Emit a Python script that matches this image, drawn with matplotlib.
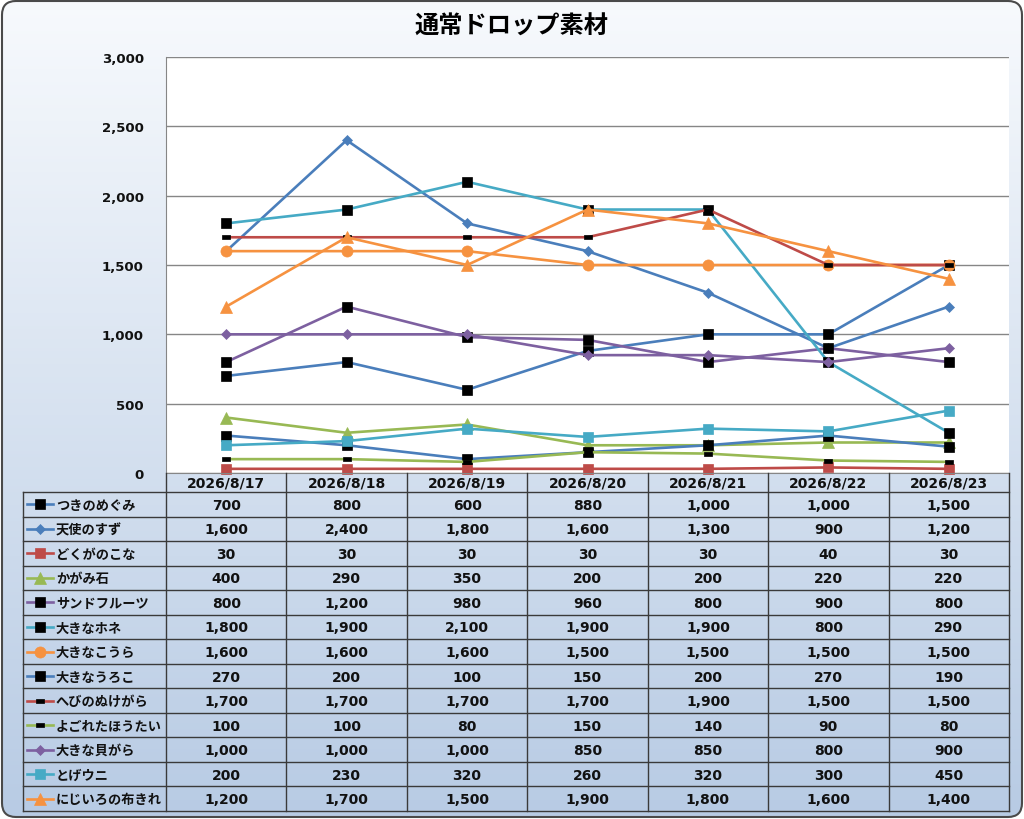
import numpy as np
import matplotlib
matplotlib.use("Agg")
import matplotlib.pyplot as plt
from matplotlib.patches import FancyBboxPatch
from matplotlib.path import Path
from matplotlib.lines import Line2D
from matplotlib.ticker import FuncFormatter, MultipleLocator

plt.rcParams['font.family'] = ['Noto Sans CJK JP', 'DejaVu Sans']
NUMFONT = ['DejaVu Sans', 'Noto Sans CJK JP']

title = "通常ドロップ素材"
dates = ["2026/8/17", "2026/8/18", "2026/8/19", "2026/8/20", "2026/8/21", "2026/8/22", "2026/8/23"]

names = ["つきのめぐみ", "天使のすず", "どくがのこな", "かがみ石", "サンドフルーツ", "大きなホネ",
         "大きなこうら", "大きなうろこ", "へびのぬけがら", "よごれたほうたい", "大きな貝がら",
         "とげウニ", "にじいろの布きれ"]

tsukinomegumi = [700, 800, 600, 880, 1000, 1000, 1500]
tenshinosuzu = [1600, 2400, 1800, 1600, 1300, 900, 1200]
dokuganokona = [30, 30, 30, 30, 30, 40, 30]
kagamiishi = [400, 290, 350, 200, 200, 220, 220]
sandfruits = [800, 1200, 980, 960, 800, 900, 800]
ookinahone = [1800, 1900, 2100, 1900, 1900, 800, 290]
ookinakoura = [1600, 1600, 1600, 1500, 1500, 1500, 1500]
ookinauroko = [270, 200, 100, 150, 200, 270, 190]
hebinonukegara = [1700, 1700, 1700, 1700, 1900, 1500, 1500]
yogoretahoutai = [100, 100, 80, 150, 140, 90, 80]
ookinakaigara = [1000, 1000, 1000, 850, 850, 800, 900]
togeuni = [200, 230, 320, 260, 320, 300, 450]
nijiironunokire = [1200, 1700, 1500, 1900, 1800, 1600, 1400]

series = [tsukinomegumi, tenshinosuzu, dokuganokona, kagamiishi, sandfruits, ookinahone,
          ookinakoura, ookinauroko, hebinonukegara, yogoretahoutai, ookinakaigara,
          togeuni, nijiironunokire]

BLUE, RED, GREEN, PURPLE, CYAN, ORANGE = "#4A7EBB", "#BE4B48", "#98B954", "#7D60A0", "#46AAC5", "#F69240"
dash = Path([(-1, -0.45), (1, -0.45), (1, 0.45), (-1, 0.45), (-1, -0.45)],
            [Path.MOVETO, Path.LINETO, Path.LINETO, Path.LINETO, Path.CLOSEPOLY])
# (line colour, marker, marker face colour, marker size)
styles = [
    (BLUE, 's', 'black', 7.5),
    (BLUE, 'D', BLUE, 5.5),
    (RED, 's', RED, 7.5),
    (GREEN, '^', GREEN, 8),
    (PURPLE, 's', 'black', 7.5),
    (CYAN, 's', 'black', 7.5),
    (ORANGE, 'o', ORANGE, 8),
    (BLUE, 's', 'black', 7.5),
    (RED, dash, 'black', 6),
    (GREEN, dash, 'black', 6),
    (PURPLE, 'D', PURPLE, 5.5),
    (CYAN, 's', CYAN, 7.5),
    (ORANGE, '^', ORANGE, 8),
]

W, H = 1024, 820
fig = plt.figure(figsize=(W / 100, H / 100), dpi=100)

def fx(px):
    return px / W

def fy(py):
    return 1 - py / H

# background with rounded border
bg = fig.add_axes([0, 0, 1, 1])
bg.set_xlim(0, W)
bg.set_ylim(H, 0)
bg.axis('off')
grad = np.linspace(0, 1, 256).reshape(-1, 1)
top = np.array([0.970, 0.980, 0.992])
bot = np.array([0.720, 0.796, 0.894])
img = top[None, None, :] * (1 - grad[:, :, None]) + bot[None, None, :] * grad[:, :, None]
im = bg.imshow(img, extent=[0, W, H, 0], aspect='auto', zorder=0)
box = FancyBboxPatch((2, 2), W - 4, H - 4, boxstyle="round,pad=0,rounding_size=14",
                     facecolor='none', edgecolor='#4a4a4a', linewidth=1.5, zorder=2)
bg.add_patch(box)
im.set_clip_path(box)

# plot area
L, R, T, B = 166, 1009, 58, 474
ax = fig.add_axes([fx(L), fy(B), fx(R - L), (B - T) / H])
ax.set_facecolor('white')
x = np.arange(len(dates))
for vals, (lc, mk, mfc, ms) in zip(series, styles):
    ax.plot(x, vals, color=lc, linewidth=1.9, marker=mk, markersize=ms,
            markerfacecolor=mfc, markeredgecolor=mfc, markeredgewidth=0.5,
            solid_joinstyle='round', clip_on=False)
ax.set_xlim(-0.5, len(dates) - 0.5)
ax.set_ylim(0, 3000)
ax.yaxis.set_major_locator(MultipleLocator(500))
ax.yaxis.set_major_formatter(FuncFormatter(lambda v, p: f"{int(v):,}"))
ax.grid(axis='y', color='#868686', linewidth=1.0)
ax.set_axisbelow(True)
ax.set_xticks([])
for s in ['top', 'right']:
    ax.spines[s].set_visible(False)
ax.spines['left'].set_color('#868686')
ax.spines['bottom'].set_color('#868686')
ax.tick_params(axis='y', length=0, pad=16)
for lab in ax.get_yticklabels():
    lab.set_fontweight('bold')
    lab.set_family(NUMFONT)
    lab.set_fontsize(9.5)
    lab.set_color('#111111')

fig.text(0.5, fy(27), title, ha='center', va='center', fontsize=17.5, fontweight='bold')

# data table
ov = fig.add_axes([0, 0, 1, 1], facecolor='none')
ov.set_xlim(0, W)
ov.set_ylim(H, 0)
ov.axis('off')
lc_tab = '#3a3a3a'
TL = 23
hdr_top, hdr_bot = 474, 493
row_h = (812 - hdr_bot) / len(names)
colw = (R - L) / len(dates)
bottom = hdr_bot + row_h * len(names)
for i in range(len(dates) + 1):
    xx = L + i * colw
    ov.plot([xx, xx], [hdr_top, bottom], color=lc_tab, lw=1.0)
ov.plot([TL, TL], [hdr_bot, bottom], color=lc_tab, lw=1.0)
for j in range(len(names) + 1):
    yy = hdr_bot + j * row_h
    ov.plot([TL, R], [yy, yy], color=lc_tab, lw=1.0)
for i, d in enumerate(dates):
    ov.text(L + (i + 0.5) * colw, (hdr_top + hdr_bot) / 2 + 0.5, d, ha='center', va='center',
            fontsize=10, fontweight='bold', color='#111111', family=NUMFONT)
for j, (nm, vals, (lc, mk, mfc, ms)) in enumerate(zip(names, series, styles)):
    yc = hdr_bot + (j + 0.5) * row_h
    ov.add_line(Line2D([27, 53], [yc, yc], color=lc, lw=1.9))
    ov.add_line(Line2D([40], [yc], marker=mk, markersize=ms, markerfacecolor=mfc,
                       markeredgecolor=mfc, markeredgewidth=0.5, color=lc))
    ov.text(56, yc + 0.5, nm, ha='left', va='center', fontsize=9.5, fontweight='bold', color='#111111')
    for i, v in enumerate(vals):
        ov.text(L + (i + 0.5) * colw, yc + 0.5, f"{v:,}", ha='center', va='center',
                fontsize=10, fontweight='bold', color='#111111', family=NUMFONT)

fig.savefig("out.png", dpi=100)
